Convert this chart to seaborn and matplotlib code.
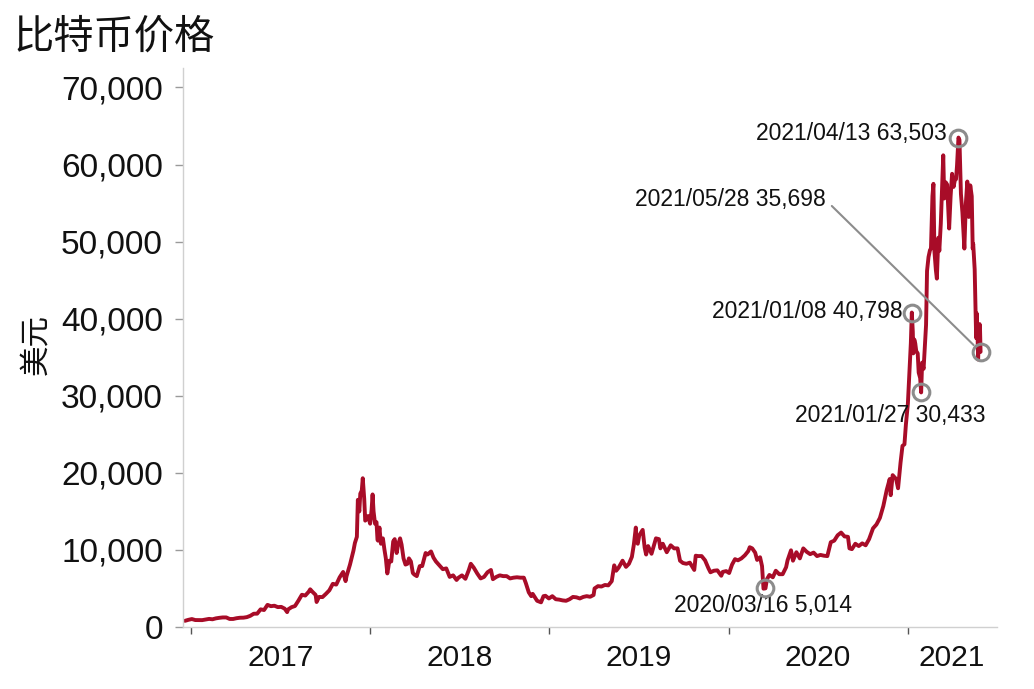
import pandas as pd
import matplotlib
matplotlib.use("Agg")
import matplotlib.pyplot as plt
import matplotlib.dates as mdates
import matplotlib.ticker as mticker
import seaborn as sns

# === Data: BTC close (USD) ===
price_dates = [
    "2016-12-20", "2016-12-27", "2017-01-03", "2017-01-10", "2017-01-17", "2017-01-24",
    "2017-01-31", "2017-02-07", "2017-02-14", "2017-02-21", "2017-02-28", "2017-03-07",
    "2017-03-14", "2017-03-21", "2017-03-28", "2017-04-04", "2017-04-11", "2017-04-18",
    "2017-04-25", "2017-05-02", "2017-05-09", "2017-05-16", "2017-05-23", "2017-05-30",
    "2017-06-06", "2017-06-13", "2017-06-20", "2017-06-27", "2017-07-04", "2017-07-11",
    "2017-07-16", "2017-07-18", "2017-07-25", "2017-08-01", "2017-08-08", "2017-08-15",
    "2017-08-22", "2017-08-29", "2017-09-01", "2017-09-05", "2017-09-12", "2017-09-14",
    "2017-09-19", "2017-09-26", "2017-10-03", "2017-10-10", "2017-10-17", "2017-10-24",
    "2017-10-31", "2017-11-07", "2017-11-12", "2017-11-14", "2017-11-21", "2017-11-28",
    "2017-12-01", "2017-12-05", "2017-12-07", "2017-12-10", "2017-12-12", "2017-12-15",
    "2017-12-17", "2017-12-20", "2017-12-22", "2017-12-25", "2017-12-28", "2018-01-01",
    "2018-01-04", "2018-01-06", "2018-01-08", "2018-01-11", "2018-01-14", "2018-01-16",
    "2018-01-17", "2018-01-20", "2018-01-23", "2018-01-27", "2018-01-30", "2018-02-02",
    "2018-02-05", "2018-02-07", "2018-02-09", "2018-02-13", "2018-02-17", "2018-02-20",
    "2018-02-24", "2018-02-27", "2018-03-03", "2018-03-06", "2018-03-10", "2018-03-14",
    "2018-03-18", "2018-03-21", "2018-03-25", "2018-03-29", "2018-04-01", "2018-04-06",
    "2018-04-12", "2018-04-17", "2018-04-24", "2018-04-28", "2018-05-05", "2018-05-10",
    "2018-05-15", "2018-05-22", "2018-05-29", "2018-06-05", "2018-06-12", "2018-06-19",
    "2018-06-26", "2018-06-30", "2018-07-07", "2018-07-14", "2018-07-21", "2018-07-25",
    "2018-07-31", "2018-08-07", "2018-08-14", "2018-08-21", "2018-08-28", "2018-09-04",
    "2018-09-08", "2018-09-15", "2018-09-22", "2018-09-29", "2018-10-06", "2018-10-13",
    "2018-10-20", "2018-10-27", "2018-11-03", "2018-11-10", "2018-11-14", "2018-11-20",
    "2018-11-25", "2018-11-28", "2018-12-07", "2018-12-15", "2018-12-20", "2018-12-24",
    "2018-12-31", "2019-01-07", "2019-01-14", "2019-01-21", "2019-01-28", "2019-02-04",
    "2019-02-11", "2019-02-18", "2019-02-25", "2019-03-04", "2019-03-11", "2019-03-18",
    "2019-03-25", "2019-04-01", "2019-04-03", "2019-04-10", "2019-04-17", "2019-04-24",
    "2019-05-01", "2019-05-08", "2019-05-13", "2019-05-17", "2019-05-22", "2019-05-30",
    "2019-06-06", "2019-06-12", "2019-06-18", "2019-06-22", "2019-06-26", "2019-06-27",
    "2019-06-30", "2019-07-03", "2019-07-10", "2019-07-14", "2019-07-17", "2019-07-21",
    "2019-07-28", "2019-08-03", "2019-08-06", "2019-08-12", "2019-08-15", "2019-08-20",
    "2019-08-28", "2019-09-05", "2019-09-12", "2019-09-19", "2019-09-24", "2019-09-30",
    "2019-10-07", "2019-10-14", "2019-10-23", "2019-10-26", "2019-10-31", "2019-11-07",
    "2019-11-14", "2019-11-21", "2019-11-25", "2019-12-02", "2019-12-09", "2019-12-17",
    "2019-12-20", "2019-12-27", "2020-01-02", "2020-01-08", "2020-01-14", "2020-01-20",
    "2020-01-27", "2020-02-03", "2020-02-10", "2020-02-13", "2020-02-18", "2020-02-24",
    "2020-02-28", "2020-03-05", "2020-03-09", "2020-03-12", "2020-03-16", "2020-03-19",
    "2020-03-24", "2020-03-31", "2020-04-06", "2020-04-13", "2020-04-20", "2020-04-27",
    "2020-04-30", "2020-05-07", "2020-05-11", "2020-05-18", "2020-05-25", "2020-06-01",
    "2020-06-08", "2020-06-15", "2020-06-22", "2020-06-29", "2020-07-06", "2020-07-13",
    "2020-07-20", "2020-07-27", "2020-08-03", "2020-08-10", "2020-08-17", "2020-08-24",
    "2020-08-31", "2020-09-03", "2020-09-08", "2020-09-15", "2020-09-22", "2020-09-29",
    "2020-10-06", "2020-10-13", "2020-10-21", "2020-10-28", "2020-11-04", "2020-11-11",
    "2020-11-18", "2020-11-24", "2020-11-26", "2020-11-30", "2020-12-07", "2020-12-11",
    "2020-12-16", "2020-12-20", "2020-12-24", "2020-12-27", "2020-12-31", "2021-01-03",
    "2021-01-06", "2021-01-08", "2021-01-10", "2021-01-11", "2021-01-13", "2021-01-15",
    "2021-01-17", "2021-01-20", "2021-01-22", "2021-01-25", "2021-01-27", "2021-01-29",
    "2021-02-01", "2021-02-04", "2021-02-06", "2021-02-08", "2021-02-11", "2021-02-14",
    "2021-02-16", "2021-02-19", "2021-02-21", "2021-02-23", "2021-02-26", "2021-02-28",
    "2021-03-03", "2021-03-05", "2021-03-08", "2021-03-10", "2021-03-13", "2021-03-15",
    "2021-03-18", "2021-03-21", "2021-03-25", "2021-03-28", "2021-03-31", "2021-04-03",
    "2021-04-06", "2021-04-08", "2021-04-10", "2021-04-13", "2021-04-15", "2021-04-18",
    "2021-04-21", "2021-04-25", "2021-04-28", "2021-05-01", "2021-05-04", "2021-05-07",
    "2021-05-10", "2021-05-12", "2021-05-13", "2021-05-16", "2021-05-19", "2021-05-20",
    "2021-05-22", "2021-05-23", "2021-05-25", "2021-05-26", "2021-05-27", "2021-05-28",
]
price_values = [
    800, 930, 1030, 900, 900, 890,
    970, 1050, 1000, 1120, 1190, 1240,
    1240, 1040, 1040, 1140, 1200, 1210,
    1280, 1450, 1720, 1730, 2290, 2200,
    2870, 2700, 2760, 2580, 2610, 2380,
    1930, 2280, 2570, 2720, 3420, 4180,
    4080, 4580, 4890, 4600, 4160, 3240,
    3900, 3880, 4300, 4760, 5600, 5500,
    6450, 7140, 5950, 6600, 8100, 9900,
    10900, 11700, 16500, 15000, 17300, 17700,
    19300, 16600, 13800, 14000, 14400, 13400,
    15200, 17200, 15000, 13400, 13600, 11300,
    11200, 12900, 10800, 11500, 10100, 8900,
    6950, 7700, 8600, 8500, 11100, 11400,
    9600, 10700, 11500, 10700, 8900, 8100,
    8200, 8900, 8500, 7000, 6800, 6600,
    7900, 7900, 9600, 9400, 9800, 9000,
    8500, 8000, 7500, 7600, 6500, 6700,
    6100, 6400, 6700, 6250, 7400, 8200,
    7700, 6950, 6300, 6500, 7100, 7400,
    6200, 6500, 6700, 6600, 6600, 6300,
    6400, 6450, 6400, 6400, 5700, 4500,
    4000, 4300, 3400, 3200, 4000, 4050,
    3700, 4000, 3600, 3550, 3450, 3400,
    3600, 3900, 3850, 3700, 3900, 4000,
    3920, 4150, 5000, 5300, 5250, 5450,
    5400, 5950, 8000, 7300, 7700, 8600,
    7800, 8200, 9100, 10700, 12900, 11200,
    10800, 11900, 12600, 10300, 9400, 10500,
    9500, 10800, 11500, 11400, 10200, 10800,
    9700, 10600, 10200, 10200, 8600, 8300,
    8200, 8350, 7400, 9250, 9200, 9200,
    8650, 7600, 7100, 7300, 7350, 6650,
    7150, 7250, 7000, 8100, 8800, 8650,
    8900, 9300, 9850, 10350, 10200, 9650,
    8700, 9050, 7900, 4970, 5014, 6200,
    6750, 6450, 7300, 6850, 6850, 7750,
    8650, 9950, 8600, 9700, 8900, 10200,
    9750, 9450, 9650, 9200, 9350, 9250,
    9200, 11000, 11200, 11900, 12250, 11750,
    11700, 10200, 10100, 10800, 10500, 10850,
    10600, 11400, 12800, 13300, 14150, 15700,
    17800, 19200, 17100, 19700, 19200, 18000,
    21300, 23500, 23700, 26300, 29000, 32800,
    36800, 40798, 38300, 35500, 37300, 36800,
    35800, 35500, 33000, 32300, 30433, 34300,
    33500, 36900, 39200, 46200, 48000, 48900,
    49100, 55900, 57500, 48800, 46300, 45200,
    50500, 48800, 52300, 55900, 61200, 55600,
    57700, 57400, 51700, 55900, 58800, 57100,
    58100, 58100, 59800, 63503, 63200, 56200,
    53800, 49100, 54900, 57800, 53200, 57300,
    55900, 49100, 49700, 46400, 37500, 40700,
    37500, 34700, 38500, 39300, 38400, 35698,
]

# annotated points
note_dates = ["2021-04-13", "2021-05-28", "2021-01-08", "2021-01-27", "2020-03-16"]
note_values = [63503, 35698, 40798, 30433, 5014]
note_labels = ["2021/04/13 63,503", "2021/05/28 35,698", "2021/01/08 40,798",
               "2021/01/27 30,433", "2020/03/16 5,014"]

year_labels = ["2017", "2018", "2019", "2020", "2021"]

LINE_COLOR = "#A80C28"
GRAY = "#8c8c8c"

# === Style ===
sns.set_theme(style="white")
plt.rcParams["font.family"] = ["Liberation Sans", "Noto Sans CJK SC", "DejaVu Sans"]

df = pd.DataFrame({"date": pd.to_datetime(price_dates), "price": price_values})

fig = plt.figure(figsize=(10.34, 6.89), dpi=100)
ax = fig.add_axes([0.177, 0.090, 0.787, 0.811])

sns.lineplot(data=df, x="date", y="price", color=LINE_COLOR, linewidth=2.8, ax=ax)

# circles on key points
nd = pd.to_datetime(note_dates)
ax.plot(nd, note_values, linestyle="none", marker="o", markersize=12,
        markerfacecolor="none", markeredgecolor=GRAY, markeredgewidth=2.2, zorder=5)

# (offset in pixels, ha)
note_offsets = [((-12, 4), "right"), ((-155, 152), "right"), ((-9, 1), "right"),
                ((-31, -23), "center"), ((-2, -17), "center")]
for d, v, lab, (off, ha) in zip(nd, note_values, note_labels, note_offsets):
    kw = {}
    if lab.startswith("2021/05/28"):
        kw["arrowprops"] = dict(arrowstyle="-", color=GRAY, lw=1.5, shrinkA=3, shrinkB=7,
                                relpos=(1.0, 0.5))
    ax.annotate(lab, xy=(d, v), xytext=off, textcoords="offset pixels",
                ha=ha, va="center", fontsize=16.5, color="#111111", **kw)

# axes range
ax.set_xlim(pd.Timestamp("2016-12-16"), pd.Timestamp("2021-06-30"))
ax.set_ylim(0, 72500)

# y axis
ax.yaxis.set_major_locator(mticker.MultipleLocator(10000))
ax.yaxis.set_major_formatter(mticker.FuncFormatter(lambda v, p: f"{int(v):,}"))
ax.tick_params(axis="y", which="major", left=True, length=6, width=1, color="#9a9a9a",
               labelsize=24, pad=8.5, labelcolor="#111111")

# x axis: tick marks at year starts, labels centred in each year
year_starts = pd.to_datetime(["2017-01-01", "2018-01-01", "2019-01-01", "2020-01-01", "2021-01-01"])
label_pos = pd.to_datetime(["2017-07-02", "2018-07-02", "2019-07-02", "2020-07-01", "2021-03-31"])
ax.xaxis.set_major_locator(mticker.FixedLocator(mdates.date2num(year_starts)))
ax.xaxis.set_major_formatter(mticker.NullFormatter())
ax.xaxis.set_minor_locator(mticker.FixedLocator(mdates.date2num(label_pos)))
ax.xaxis.set_minor_formatter(mticker.FixedFormatter(year_labels))
ax.tick_params(axis="x", which="major", bottom=True, length=5, width=1, color="#555555")
ax.tick_params(axis="x", which="minor", bottom=True, length=0, labelsize=21.5, pad=12,
               labelcolor="#111111")

ax.set_xlabel("")
ax.set_ylabel("")
ax.grid(False)
for side in ["top", "right"]:
    ax.spines[side].set_visible(False)
for side in ["left", "bottom"]:
    ax.spines[side].set_color("#d0d0d0")
    ax.spines[side].set_linewidth(1)

# titles
fig.text(0.013, 0.946, "比特币价格", fontsize=29, ha="left", va="center",
         family=["Noto Sans CJK SC", "DejaVu Sans"], color="#111111")
fig.text(0.035, 0.50, "美元", fontsize=22, rotation=90, ha="center", va="center",
         family=["Noto Sans CJK SC", "DejaVu Sans"], color="#111111")

fig.savefig("out.png", dpi=100)
